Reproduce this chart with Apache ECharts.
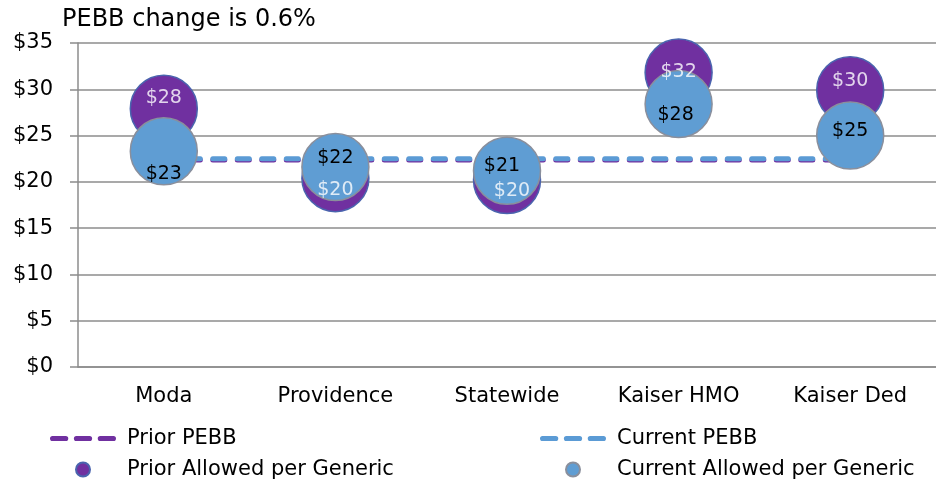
<!DOCTYPE html>
<html>
<head>
<meta charset="utf-8">
<script src="https://cdn.jsdelivr.net/npm/echarts@6/dist/echarts.min.js"></script>
<style>
  html, body { margin: 0; padding: 0; background: #fff; }
  #chart { width: 936px; height: 481px; }
</style>
</head>
<body>
<div id="chart"></div>
<script>
// values
const plans = ['Moda', 'Providence', 'Statewide', 'Kaiser HMO', 'Kaiser Ded'];
const priorAllowed = [27.9, 20.4, 20.2, 31.8, 29.9];
const currentAllowed = [23.3, 21.6, 21.2, 28.4, 25.0];
const priorPebb = [22.37, 22.37, 22.37, 22.37, 22.37];
const currentPebb = [22.5, 22.5, 22.5, 22.5, 22.5];
const yTicks = [0, 5, 10, 15, 20, 25, 30, 35];

// label nudges so the numbers sit where the original put them
const priorShift = [[0, -11], [0, 12], [5, 11], [0, -1], [0, -9]];
const currentShift = [[0, 23], [0, -9], [-5, -5], [-3, 11], [0, -5]];

const FONT = 'DejaVu Sans';
const PURPLE = '#7030A0';
const BLUE = '#5F9DD3';
const LINE_BLUE = '#5B9BD5';

// three rounded dashes, used as the legend icon of the dashed lines
const DASH_ICON = 'path://M2.5,0h13a2.5,2.5 0 0 1 0,5h-13a2.5,2.5 0 0 1 0,-5z' +
    'M26,0h13a2.5,2.5 0 0 1 0,5h-13a2.5,2.5 0 0 1 0,-5z' +
    'M49.5,0h13a2.5,2.5 0 0 1 0,5h-13a2.5,2.5 0 0 1 0,-5z';

const dollar = v => '$' + Math.round(v);

function bubbleData(values, shifts) {
    return values.map((v, i) => ({
        value: v,
        label: {offset: shifts[i]}
    }));
}

function legendBox(left, lineName, dotName) {
    return {
        data: [
            {name: lineName, icon: DASH_ICON, itemStyle: {borderWidth: 0}},
            {name: dotName, icon: 'circle'}
        ],
        orient: 'vertical',
        left: left,
        top: 428,
        padding: 0,
        itemWidth: 66,
        itemHeight: 14,
        itemGap: 10,
        textStyle: {fontFamily: FONT, fontSize: 21, lineHeight: 20, color: '#000', padding: [0, 0, 0, 6]}
    };
}

const chart = echarts.init(document.getElementById('chart'));

const option = {
    animation: false,
    backgroundColor: '#fff',
    title: {
        text: 'PEBB change is 0.6%',
        left: 62,
        top: 8,
        padding: 0,
        textStyle: {fontFamily: FONT, fontSize: 24, fontWeight: 'normal', color: '#000'}
    },
    grid: {left: 78, right: -12, top: 43, bottom: 114},
    legend: [
        legendBox(50, 'Prior PEBB', 'Prior Allowed per Generic'),
        legendBox(540, 'Current PEBB', 'Current Allowed per Generic')
    ],
    xAxis: {
        type: 'category',
        data: plans,
        axisLine: {lineStyle: {color: '#8c8c8c', width: 1.5}},
        axisTick: {length: 6, lineStyle: {color: '#8c8c8c', width: 1.5}},
        axisLabel: {margin: 19, fontFamily: FONT, fontSize: 21, color: '#000'}
    },
    yAxis: {
        type: 'value',
        min: yTicks[0],
        max: yTicks[yTicks.length - 1],
        interval: yTicks[1] - yTicks[0],
        axisLine: {show: true, lineStyle: {color: '#8c8c8c', width: 1.5}},
        axisTick: {show: true, length: 8, lineStyle: {color: '#8c8c8c', width: 1.5}},
        splitLine: {lineStyle: {color: '#8c8c8c', width: 1.5}},
        axisLabel: {margin: 25, fontFamily: FONT, fontSize: 21, color: '#000', formatter: v => '$' + v}
    },
    series: [
        {
            name: 'Prior PEBB',
            type: 'line',
            data: priorPebb,
            symbol: 'none',
            z: 1,
            itemStyle: {color: PURPLE},
            lineStyle: {color: PURPLE, width: 5, type: [12, 12.5], cap: 'round'}
        },
        {
            name: 'Current PEBB',
            type: 'line',
            data: currentPebb,
            symbol: 'none',
            z: 1,
            itemStyle: {color: LINE_BLUE},
            lineStyle: {color: LINE_BLUE, width: 5, type: [12, 12.5], cap: 'round'}
        },
        {
            name: 'Prior Allowed per Generic',
            type: 'scatter',
            data: priorAllowed,
            symbolSize: 67,
            z: 2,
            itemStyle: {color: PURPLE, borderColor: '#4A64AE', borderWidth: 1.5, opacity: 1}
        },
        {
            name: 'Current Allowed per Generic',
            type: 'scatter',
            data: bubbleData(currentAllowed, currentShift),
            symbolSize: 67,
            z: 3,
            itemStyle: {color: BLUE, borderColor: '#8a8f9c', borderWidth: 1.5, opacity: 1},
            label: {
                show: true,
                position: 'inside',
                fontFamily: FONT,
                fontSize: 19,
                color: '#000',
                formatter: p => dollar(p.value)
            }
        },
        {
            name: 'priorLabels',
            type: 'scatter',
            data: bubbleData(priorAllowed, priorShift),
            symbolSize: 1,
            silent: true,
            z: 4,
            itemStyle: {color: 'rgba(0,0,0,0)'},
            label: {
                show: true,
                position: 'inside',
                fontFamily: FONT,
                fontSize: 19,
                color: '#fff',
                formatter: p => dollar(p.value)
            }
        }
    ]
};

chart.setOption(option);
</script>
</body>
</html>
